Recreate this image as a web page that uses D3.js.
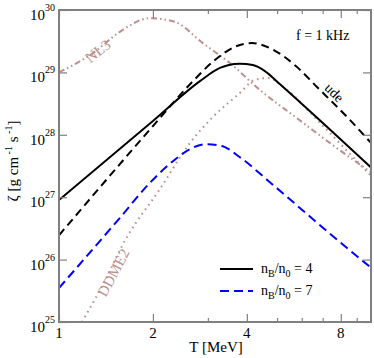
<!DOCTYPE html>
<html>
<head>
<meta charset="utf-8">
<script src="https://cdn.jsdelivr.net/npm/d3@7"></script>
<style>
  body { margin: 0; background: #fff; }
  text { font-family: "Liberation Serif", "DejaVu Serif", serif; }
</style>
</head>
<body>
<svg width="374" height="358"></svg>
<script>

// DATA ––––––––––––––––––––––––––––––––––––––––––––––––––––––––––––––––

// n_B/n_0 = 4, solid
var tN4 = [1, 2, 2.83, 3.28, 3.48, 3.8, 4.18, 4.57, 5.1, 5.91, 10];
var zetaN4 = [9.0e26, 1.66e28, 7.24e28, 1.18e29, 1.3e29, 1.37e29, 1.31e29, 1.05e29, 6.5e28, 3.36e28, 3.0e27];

// n_B/n_0 = 4, dashed ("ude")
var tUde = [1, 2, 2.63, 3.16, 3.66, 4.15, 4.74, 5.78, 6.7, 8.55, 10];
var zetaUde = [2.45e26, 1.38e28, 6.46e28, 1.58e29, 2.57e29, 2.95e29, 2.45e29, 1.23e29, 5.9e28, 1.74e28, 7.4e27];

// n_B/n_0 = 7, blue dashed
var tN7 = [1, 1.568, 1.956, 2.35, 2.63, 2.98, 3.33, 3.8, 4.74, 7.65, 10];
var zetaN7 = [3.5e25, 4.68e26, 1.7e27, 3.98e27, 5.9e27, 7.08e27, 6.6e27, 4.37e27, 1.74e27, 2.24e26, 7.4e25];

// NL3, dash-dot-dot
var tNL3 = [1, 1.285, 1.567, 1.956, 2.35, 2.89, 3.53, 4.4, 5.78, 7.38, 10];
var zetaNL3 = [1.0e29, 2.04e29, 4.47e29, 7.41e29, 6.46e29, 2.95e29, 1.41e29, 5.25e28, 1.86e28, 7.41e27, 2.51e27];

// DDME2, dotted
var tDDME2 = [1.185, 1.353, 1.65, 2.1, 2.63, 3.09, 3.8, 4.24, 4.67, 5.29, 6.95, 10];
var zetaDDME2 = [1.0e25, 3.24e25, 2.29e26, 1.32e27, 7.41e27, 1.86e28, 4.68e28, 7.59e28, 8.13e28, 5.62e28, 1.45e28, 2.19e27];

var xMajor = [1, 2, 4, 8];
var xMinor = [3, 5, 6, 7, 9];
var yMajor = [1e25, 1e26, 1e27, 1e28, 1e29, 1e30];


// D3 ––––––––––––––––––––––––––––––––––––––––––––––––––––––––––––––––––

var svg = d3.select("svg"),
    margin = {top: 10, right: 3, bottom: 36, left: 59},
    width = +svg.attr("width") - margin.left - margin.right,
    height = +svg.attr("height") - margin.top - margin.bottom,
    g = svg.append("g").attr("transform", "translate(" + margin.left + "," + margin.top + ")");

var x = d3.scaleLog().domain([1, 10]).range([0, width]);
var y = d3.scaleLog().domain([1e25, 1e30]).range([height, 0]);

var axisColor = "#808080";
var rosy = "#bc8f8f";

g.append("defs").append("clipPath").attr("id", "clip")
  .append("rect").attr("width", width).attr("height", height);

var line = d3.line()
  .x(function(d) { return x(d[0]); })
  .y(function(d) { return y(d[1]); })
  .curve(d3.curveMonotoneX);

var curves = [
  {t: tNL3, z: zetaNL3, color: rosy, dash: "6,3,1.5,3,1.5,3", w: 2},
  {t: tDDME2, z: zetaDDME2, color: rosy, dash: "1.6,4", w: 2},
  {t: tUde, z: zetaUde, color: "#000", dash: "8,5", w: 2},
  {t: tN4, z: zetaN4, color: "#000", dash: null, w: 2},
  {t: tN7, z: zetaN7, color: "#0000ff", dash: "9,5", w: 2}
];

var plot = g.append("g").attr("clip-path", "url(#clip)");
curves.forEach(function(c) {
  plot.append("path")
    .datum(d3.zip(c.t, c.z))
    .attr("fill", "none")
    .attr("stroke", c.color)
    .attr("stroke-width", c.w)
    .attr("stroke-dasharray", c.dash)
    .attr("d", line);
});

// axes (ticks point inward on all four sides)
function styleAxis(sel) {
  sel.select(".domain").remove();
  sel.selectAll("line").attr("stroke", axisColor).attr("stroke-width", 1.2);
}

g.append("g").attr("transform", "translate(0," + height + ")")
  .call(d3.axisBottom(x).tickValues(xMajor).tickSize(-8).tickFormat(""))
  .call(styleAxis);
g.append("g").attr("transform", "translate(0," + height + ")")
  .call(d3.axisBottom(x).tickValues(xMinor).tickSize(-4).tickFormat(""))
  .call(styleAxis);
g.append("g")
  .call(d3.axisTop(x).tickValues(xMajor).tickSize(-8).tickFormat(""))
  .call(styleAxis);
g.append("g")
  .call(d3.axisTop(x).tickValues(xMinor).tickSize(-4).tickFormat(""))
  .call(styleAxis);
g.append("g")
  .call(d3.axisLeft(y).tickValues(yMajor).tickSize(-8).tickFormat(""))
  .call(styleAxis);
g.append("g").attr("transform", "translate(" + width + ",0)")
  .call(d3.axisRight(y).tickValues(yMajor).tickSize(-8).tickFormat(""))
  .call(styleAxis);

g.append("rect")
  .attr("width", width).attr("height", height)
  .attr("fill", "none").attr("stroke", axisColor).attr("stroke-width", 2);

// tick labels
g.selectAll(".xlab").data(xMajor).enter().append("text")
  .attr("x", function(d) { return x(d); })
  .attr("y", height + 16)
  .attr("text-anchor", "middle")
  .attr("font-size", 15)
  .text(function(d) { return d; });

var ylab = g.selectAll(".ylab").data(yMajor).enter().append("text")
  .attr("x", -4)
  .attr("y", function(d) { return y(d) + 10; })
  .attr("text-anchor", "end")
  .attr("font-size", 15);
ylab.append("tspan").text("10");
ylab.append("tspan").attr("dy", -9).attr("font-size", 10)
  .text(function(d) { return Math.round(Math.log10(d)); });

// axis titles
svg.append("text")
  .attr("x", 216).attr("y", 352)
  .attr("text-anchor", "middle")
  .attr("font-size", 15)
  .text("T [MeV]");

var yt = svg.append("text")
  .attr("transform", "translate(18,161) rotate(-90)")
  .attr("text-anchor", "middle")
  .attr("font-size", 15);
yt.append("tspan").text("ζ [g cm");
yt.append("tspan").attr("dy", -6).attr("font-size", 10).text(" -1");
yt.append("tspan").attr("dy", 6).text(" s");
yt.append("tspan").attr("dy", -6).attr("font-size", 10).text(" -1");
yt.append("tspan").attr("dy", 6).text("]");

// annotations
g.append("text")
  .attr("x", 296 - margin.left).attr("y", 40 - margin.top)
  .attr("font-size", 14)
  .text("f = 1 kHz");

g.append("text")
  .attr("transform", "translate(" + (101 - margin.left) + "," + (55 - margin.top) + ") rotate(-38)")
  .attr("text-anchor", "middle")
  .attr("font-size", 15)
  .attr("fill", rosy)
  .text("NL3");

g.append("text")
  .attr("transform", "translate(" + (118 - margin.left) + "," + (275 - margin.top) + ") rotate(-62)")
  .attr("text-anchor", "middle")
  .attr("font-size", 15)
  .attr("fill", rosy)
  .text("DDME2");

g.append("text")
  .attr("transform", "translate(" + (331 - margin.left) + "," + (96 - margin.top) + ") rotate(45)")
  .attr("text-anchor", "middle")
  .attr("font-size", 14)
  .text("ude");

// legend
var legend = [
  {label: "4", color: "#000", dash: null, y: 269},
  {label: "7", color: "#0000ff", dash: "9,5", y: 291}
];
legend.forEach(function(d) {
  svg.append("line")
    .attr("x1", 220).attr("x2", 253)
    .attr("y1", d.y).attr("y2", d.y)
    .attr("stroke", d.color).attr("stroke-width", 2)
    .attr("stroke-dasharray", d.dash);
  var t = svg.append("text")
    .attr("x", 261).attr("y", d.y + 4)
    .attr("font-size", 14);
  t.append("tspan").text("n");
  t.append("tspan").attr("dy", 4).attr("font-size", 10).text("B");
  t.append("tspan").attr("dy", -4).text("/n");
  t.append("tspan").attr("dy", 4).attr("font-size", 10).text("0");
  t.append("tspan").attr("dy", -4).text(" = " + d.label);
});

</script>
</body>
</html>
